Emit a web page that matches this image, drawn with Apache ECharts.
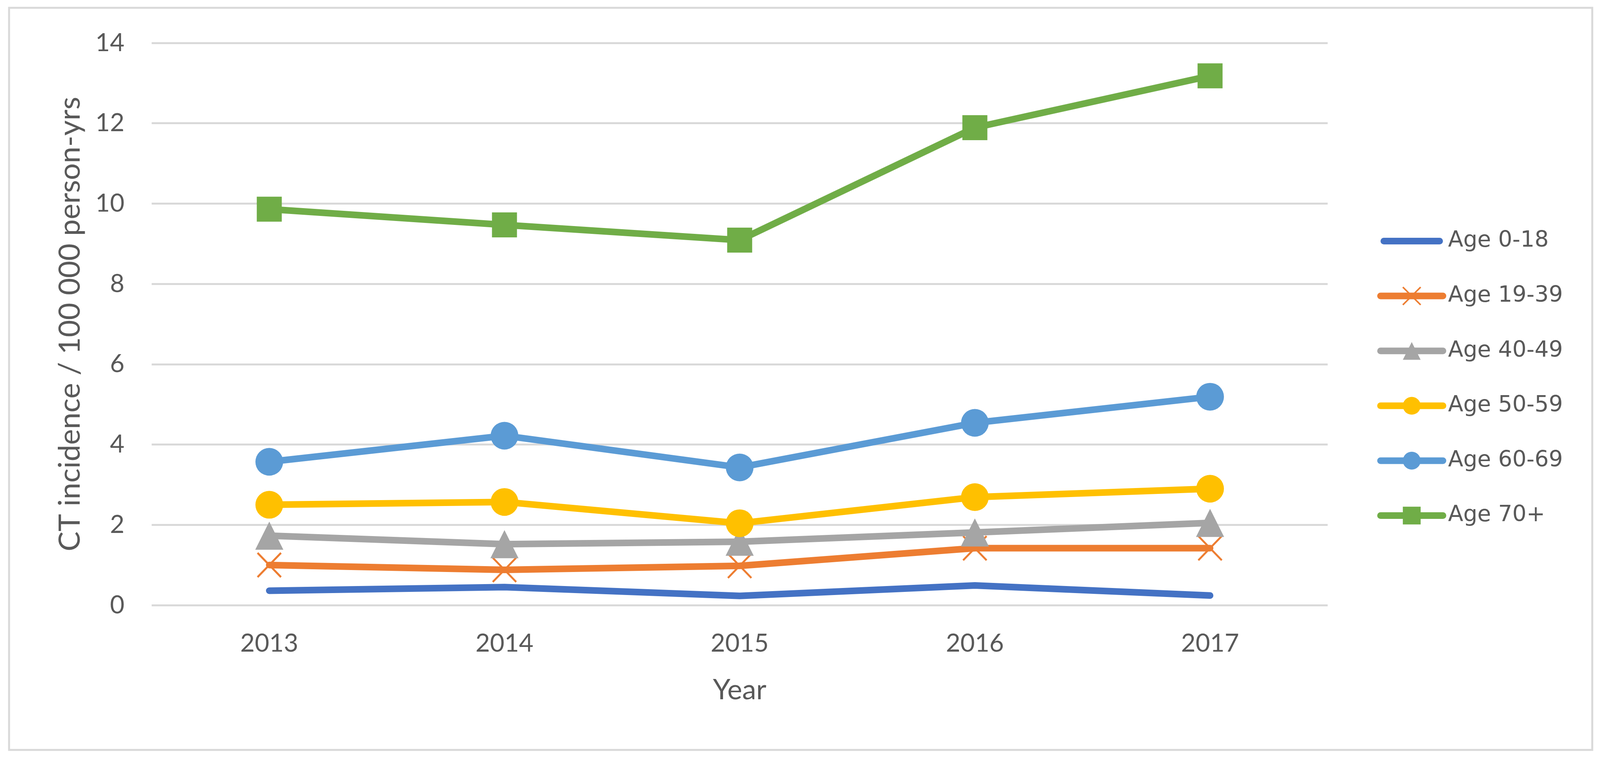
<!DOCTYPE html>
<html><head><meta charset="utf-8">
<script src="https://cdn.jsdelivr.net/npm/echarts@6/dist/echarts.min.js"></script>
<style>html,body{margin:0;padding:0;background:#fff;overflow:hidden}#c{width:100vw;height:100vh}</style>
</head><body><div id="c"></div>
<script>
// ---- data ----
const categories = ['2013', '2014', '2015', '2016', '2017'];
const seriesNames = ['Age 0-18', 'Age 19-39', 'Age 40-49', 'Age 50-59', 'Age 60-69', 'Age 70+'];
const age0_18  = [0.36, 0.45, 0.23, 0.49, 0.24];
const age19_39 = [1.00, 0.88, 0.98, 1.42, 1.42];
const age40_49 = [1.73, 1.52, 1.58, 1.81, 2.05];
const age50_59 = [2.50, 2.57, 2.04, 2.69, 2.90];
const age60_69 = [3.57, 4.22, 3.43, 4.54, 5.19];
const age70p   = [9.86, 9.47, 9.09, 11.89, 13.18];
const yMin = 0, yMax = 14, yInterval = 2;
const xAxisTitle = 'Year';
const yAxisTitle = 'CT incidence / 100 000 person-yrs';

// ---- layout (designed for 4230 x 1944, scaled to the actual viewport) ----
const W = window.innerWidth || 4230, H = window.innerHeight || 1944;
const sx = W / 4230, sy = H / 1944;
const colors = ['#4472C4', '#ED7D31', '#A5A5A5', '#FFC000', '#5B9BD5', '#70AD47'];
const textColor = '#595959';
const gridColor = '#D9D9D9';
const LW = 17;

function mkSeries(i, data, symbol, size, itemExtra) {
  return {
    name: seriesNames[i],
    type: 'line',
    data: data,
    symbol: symbol,
    symbolSize: size,
    symbolKeepAspect: false,
    showAllSymbol: true,
    lineStyle: { color: colors[i], width: LW, cap: 'round', join: 'round' },
    itemStyle: Object.assign({ color: colors[i] }, itemExtra || {}),
    emphasis: { disabled: true },
    z: 2 + i
  };
}

const chart = echarts.init(document.getElementById('c'), null, { renderer: 'canvas', width: W, height: H });
chart.setOption({
  animation: false,
  backgroundColor: '#fff',
  grid: { left: 401 * sx, right: 720 * sx, top: 110 * sy, bottom: 394 * sy, containLabel: false, outerBoundsMode: 'none' },
  xAxis: {
    type: 'category',
    data: categories,
    boundaryGap: true,
    axisLine: { show: false },
    axisTick: { show: false },
    axisLabel: { margin: 66 * sy, fontFamily: 'Lato', fontSize: 64, color: textColor },
    name: xAxisTitle,
    nameLocation: 'middle',
    nameGap: 182 * sy,
    nameTextStyle: { fontFamily: 'Lato', fontSize: 72, color: textColor }
  },
  yAxis: {
    type: 'value',
    min: yMin, max: yMax, interval: yInterval,
    axisLine: { show: false },
    axisTick: { show: false },
    splitLine: { show: true, lineStyle: { color: gridColor, width: 5 } },
    axisLabel: { margin: 72 * sx, fontFamily: 'Lato', fontSize: 64, color: textColor },
    name: yAxisTitle,
    nameLocation: 'middle',
    nameGap: 176 * sx,
    nameTextStyle: { fontFamily: 'Lato', fontSize: 76, color: textColor }
  },
  legend: {
    orient: 'vertical',
    left: 3641 * sx,
    top: 589 * sy,
    padding: 0,
    itemWidth: 165 * sx,
    itemHeight: 57,
    itemGap: 83.6 * sy,
    selectedMode: false,
    lineStyle: { width: LW, cap: 'round' },
    textStyle: { fontFamily: 'DejaVu Sans', fontSize: 57, color: textColor, lineHeight: 57, padding: [0, 0, 0, 8] },
    data: [
      { name: seriesNames[0], icon: 'path://M8.5,0H151.5A8.5,8.5,0,0,1,151.5,17H8.5A8.5,8.5,0,0,1,8.5,0Z' },
      { name: seriesNames[1], itemStyle: { borderWidth: 4 } },
      { name: seriesNames[2] },
      { name: seriesNames[3] },
      { name: seriesNames[4] },
      { name: seriesNames[5] }
    ]
  },
  graphic: [{
    type: 'rect',
    shape: { x: 24 * sx, y: 20 * sy, width: 4185.5 * sx, height: 1900.7 * sy },
    style: { fill: 'none', stroke: gridColor, lineWidth: 5 },
    silent: true, z: 0
  }],
  series: [
    mkSeries(0, age0_18, 'none', 0),
    mkSeries(1, age19_39, 'path://M0,0L10,10M10,0L0,10', [60, 62], { borderColor: colors[1], borderWidth: 5 }),
    mkSeries(2, age40_49, 'triangle', 72),
    mkSeries(3, age50_59, 'circle', 71),
    mkSeries(4, age60_69, 'circle', 71),
    mkSeries(5, age70p, 'rect', 64)
  ]
});
</script>
</body></html>
